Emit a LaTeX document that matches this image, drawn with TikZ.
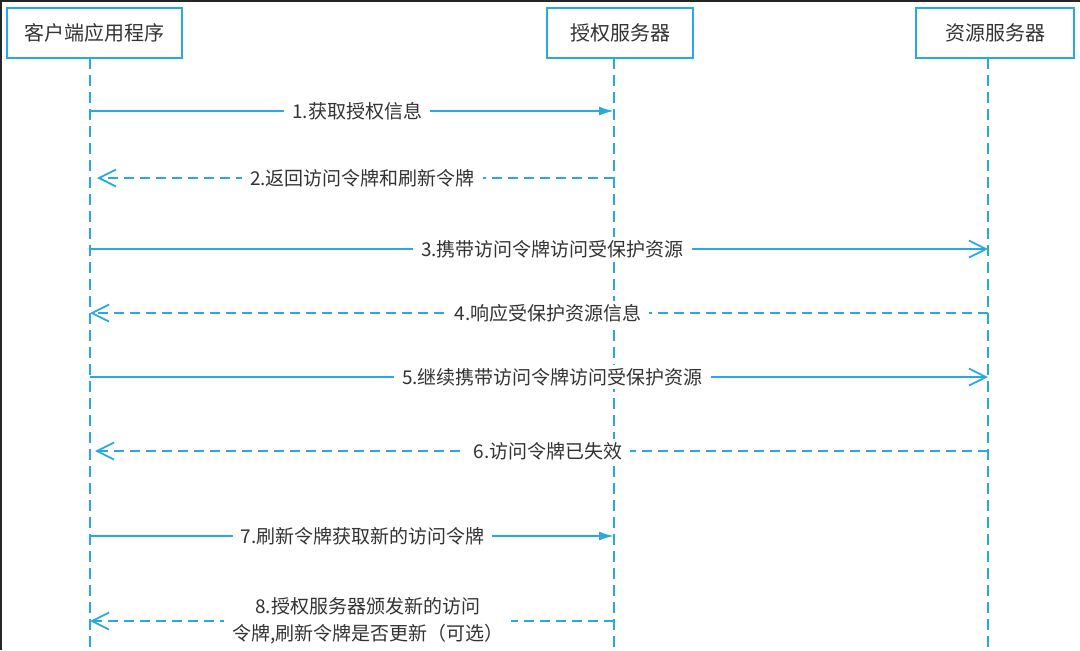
\documentclass[tikz,border=0pt]{standalone}
\usepackage{fontspec}
\setmainfont{Noto Sans CJK SC}
\usetikzlibrary{arrows.meta}
\definecolor{seqblue}{HTML}{2AA9E0}
\definecolor{seqtext}{HTML}{333333}

\begin{document}
\begin{tikzpicture}[x=0.5pt,y=-0.5pt,
  actor/.style={draw=seqblue,line width=1pt,minimum width=#1,minimum height=25pt,
    inner sep=0pt,text=seqtext,font=\fontsize{10}{12}\selectfont},
  lifeline/.style={seqblue,line width=0.9pt,dash pattern=on 5.5pt off 3pt},
  call/.style={seqblue,line width=0.9pt,-{Latex[length=7.5pt,width=4.5pt]}},
  open/.style={seqblue,line width=0.9pt,-{Straight Barb[length=8.5pt,width=8.5pt]}},
  reply/.style={open,dash pattern=on 5pt off 3pt},
  lbl/.style={fill=white,text=seqtext,inner xsep=4pt,inner ysep=1.5pt,
    font=\fontsize{9.5}{13.5}\selectfont}]
\useasboundingbox (0,0) rectangle (1080,650);

% frame edges of the scan
\draw[black!85,line width=1pt] (1,650) -- (1,1) -- (1080,1);

% participants
\node[actor=87.5pt] (client) at (94.5,33) {客户端应用程序};
\node[actor=73pt] (auth) at (620,33) {授权服务器};
\node[actor=79pt] (res) at (995,33) {资源服务器};

% points on the lifelines
\foreach \i/\y in {0/58,1/111,2/178,3/249,4/313,5/377,6/451,7/536,8/621,9/650}{
  \coordinate (c\i) at (90,\y);
  \coordinate (a\i) at (614,\y);
  \coordinate (r\i) at (988,\y);
}

\draw[lifeline] (c0) -- (c9);
\draw[lifeline] (a0) -- (a9);
\draw[lifeline] (r0) -- (r9);

% messages
\draw[call] (c1) -- node[lbl,pos=0.51] {1.获取授权信息} (a1);
\draw[reply,shorten >=3.5pt] (a2) -- node[lbl,pos=0.48] {2.返回访问令牌和刷新令牌} (c2);
\draw[open] (c3) -- node[lbl,pos=0.515] {3.携带访问令牌访问受保护资源} (r3);
\draw[reply] (r4) -- node[lbl,pos=0.49] {4.响应受保护资源信息} (c4);
\draw[open] (c5) -- node[lbl,pos=0.515] {5.继续携带访问令牌访问受保护资源} (r5);
\draw[reply,shorten >=2.5pt] (r6) -- node[lbl,pos=0.49] {6.访问令牌已失效} (c6);
\draw[call] (c7) -- node[lbl,pos=0.52] {7.刷新令牌获取新的访问令牌} (a7);
\draw[reply] (a8) -- node[lbl,pos=0.47,align=center] {8.授权服务器颁发新的访问\\令牌,刷新令牌是否更新（可选）} (c8);
\end{tikzpicture}
\end{document}
